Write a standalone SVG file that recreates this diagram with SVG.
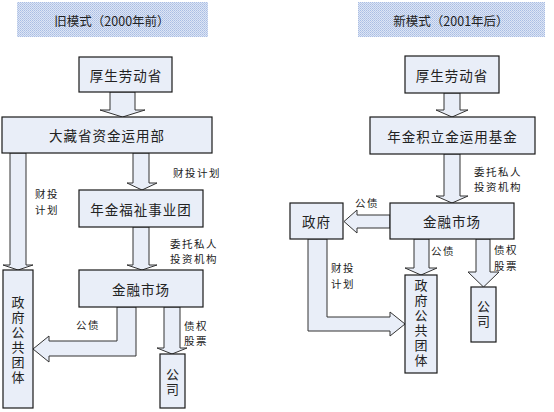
<svg xmlns="http://www.w3.org/2000/svg" width="554" height="412" viewBox="0 0 554 412">
<defs>
<pattern id="dots" width="2" height="2" patternUnits="userSpaceOnUse">
<rect width="2" height="2" fill="#dde5f4"/>
<rect width="1" height="1" fill="#a9bde4"/>
<rect x="1" y="1" width="1" height="1" fill="#b8c9ea"/>
</pattern>
</defs>
<style>
text{font-family:"Noto Sans CJK SC","Noto Sans CJK JP",sans-serif;fill:#222;text-anchor:middle;dominant-baseline:central}
.box{fill:#e9eef8;stroke:#1a1a1a;stroke-width:1.2}
.arr{fill:#e9eef8;stroke:#333;stroke-width:1}
.t{font-size:13.5px;letter-spacing:1px}
.l{font-size:10.5px;letter-spacing:1.5px}
.v{font-size:13px;writing-mode:vertical-rl;letter-spacing:2px}
.title{font-size:12.5px}
</style>
<g id="title-old"><rect x="17" y="2" width="191" height="35" fill="url(#dots)"/><text class="title" x="112" y="20">旧模式（2000年前）</text></g>
<g id="title-new"><rect x="358" y="2" width="187" height="35" fill="url(#dots)"/><text class="title" x="451" y="20">新模式（2001年后）</text></g>
<g id="connectors">
<polygon class="arr" points="110,92 135,92 135,110 145,110 122.5,117 100,110 110,110"/>
<polygon class="arr" points="10,153 26,153 26,265 33,265 18,270 3,265 10,265"/>
<polygon class="arr" points="133,153 149,153 149,183 157,183 142,190 127,183 133,183"/>
<polygon class="arr" points="133,227 149,227 149,265 157,265 142,270 127,265 133,265"/>
<polygon class="arr" points="117,307 136,307 136,356 49,356 49,362 33,349 49,336 49,341 117,341"/>
<polygon class="arr" points="164,307 180,307 180,348 187,348 172,354 157,348 164,348"/>
<polygon class="arr" points="444,93 460,93 460,110 468,110 452,117 436,110 444,110"/>
<polygon class="arr" points="444,154 460,154 460,196 468,196 452,203 436,196 444,196"/>
<polygon class="arr" points="390,215 357,215 357,210 344,221.5 357,233 357,228 390,228"/>
<polygon class="arr" points="414,239 429,239 429,268 437,268 421,275 405,268 414,268"/>
<polygon class="arr" points="476,239 490,239 490,272 499,272 483.5,287 468,272 476,272"/>
<polygon class="arr" points="308,239 327,239 327,317 390,317 390,312 405,324 390,336 390,331 308,331"/>
<text class="l"><tspan x="47" y="193">财投</tspan><tspan x="47" y="208.5">计划</tspan></text>
<text class="l" x="197" y="172">财投计划</text>
<text class="l"><tspan x="194" y="242.5">委托私人</tspan><tspan x="194" y="258">投资机构</tspan></text>
<text class="l" x="88" y="324">公债</text>
<text class="l"><tspan x="196" y="324.5">债权</tspan><tspan x="196" y="340">股票</tspan></text>
<text class="l"><tspan x="498" y="170.5">委托私人</tspan><tspan x="498" y="186">投资机构</tspan></text>
<text class="l" x="367" y="202">公债</text>
<text class="l" x="443" y="250">公债</text>
<text class="l"><tspan x="506" y="249">债权</tspan><tspan x="506" y="264.5">股票</tspan></text>
<text class="l"><tspan x="343" y="267">财投</tspan><tspan x="343" y="282.5">计划</tspan></text>
</g>
<g id="old-mhlw"><rect class="box" x="79" y="57" width="93" height="35"/><text class="t" x="126" y="74.5">厚生劳动省</text></g>
<g id="old-mof"><rect class="box" x="2" y="117" width="210" height="36"/><text class="t" x="107" y="135">大藏省资金运用部</text></g>
<g id="old-pension"><rect class="box" x="79" y="190" width="124" height="37"/><text class="t" x="141" y="208.5">年金福祉事业团</text></g>
<g id="old-market"><rect class="box" x="79" y="270" width="124" height="37"/><text class="t" x="141" y="288.5">金融市场</text></g>
<g id="old-public"><rect class="box" x="3" y="270" width="30" height="138"/><text class="v" x="18" y="341">政府公共团体</text></g>
<g id="old-company"><rect class="box" x="160" y="354" width="25" height="54"/><text class="v" x="172.5" y="383">公司</text></g>
<g id="new-mhlw"><rect class="box" x="405" y="56" width="94" height="37"/><text class="t" x="452" y="74.5">厚生劳动省</text></g>
<g id="new-fund"><rect class="box" x="370" y="117" width="165" height="37"/><text class="t" x="452.5" y="135.5">年金积立金运用基金</text></g>
<g id="new-market"><rect class="box" x="390" y="203" width="124" height="36"/><text class="t" x="452" y="221">金融市场</text></g>
<g id="new-gov"><rect class="box" x="290" y="203" width="53" height="36"/><text class="t" x="316.5" y="221">政府</text></g>
<g id="new-public"><rect class="box" x="405" y="275" width="32" height="98"/><text class="v" x="421" y="324">政府公共团体</text></g>
<g id="new-company"><rect class="box" x="471" y="287" width="25" height="55"/><text class="v" x="483.5" y="315">公司</text></g>
</svg>
